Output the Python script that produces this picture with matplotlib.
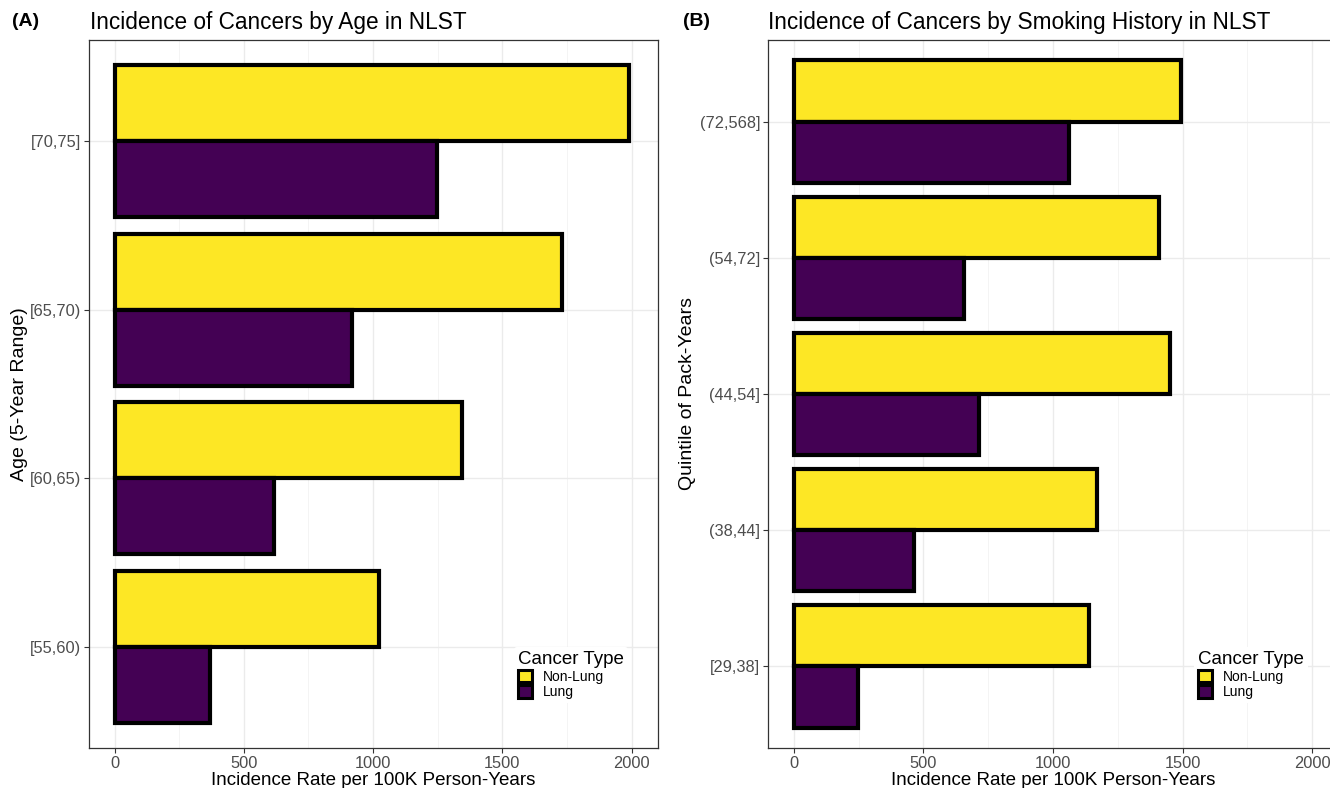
import numpy as np
import matplotlib
matplotlib.use("Agg")
import matplotlib.pyplot as plt
from matplotlib.patches import Patch

plt.rcParams['font.family'] = ['Liberation Sans', 'DejaVu Sans']

# data
age_groups = ['[55,60)', '[60,65)', '[65,70)', '[70,75]']
age_nonlung = [1024, 1343, 1729, 1990]
age_lung = [369, 615, 918, 1249]

pack_groups = ['[29,38]', '(38,44]', '(44,54]', '(54,72]', '(72,568]']
pack_nonlung = [1139, 1170, 1451, 1411, 1495]
pack_lung = [247, 465, 713, 657, 1062]

cancer_types = ['Non-Lung', 'Lung']
colors = {'Non-Lung': '#FDE725', 'Lung': '#440154'}
x_ticks = [0, 500, 1000, 1500, 2000]

W, H = 1330, 788
fig = plt.figure(figsize=(W / 100, H / 100), dpi=100)

def panel(rect, groups, nonlung, lung, title, ylab, tag, tag_x, title_x, ylab_x):
    ax = fig.add_axes(rect)
    y = np.arange(1, len(groups) + 1)
    ax.barh(y + 0.225, nonlung, height=0.45, color=colors['Non-Lung'],
            edgecolor='black', linewidth=3.0, zorder=3)
    ax.barh(y - 0.225, lung, height=0.45, color=colors['Lung'],
            edgecolor='black', linewidth=3.0, zorder=3)
    ax.set_xlim(-100, 2100)
    ax.set_ylim(0.4, len(groups) + 0.6)
    ax.set_yticks(y)
    ax.set_yticklabels(groups)
    ax.set_xticks(x_ticks)
    ax.set_xticks([250, 750, 1250, 1750], minor=True)
    ax.grid(True, which='major', color='#EBEBEB', linewidth=1.0, zorder=0)
    ax.grid(True, which='minor', axis='x', color='#F2F2F2', linewidth=0.6, zorder=0)
    ax.tick_params(axis='both', which='major', colors='#333333', labelcolor='#4D4D4D',
                   labelsize=11.8, length=3.5, width=0.8, pad=2)
    ax.tick_params(axis='x', which='minor', length=0)
    for s in ax.spines.values():
        s.set_color('#333333')
        s.set_linewidth(0.9)
    ax.set_xlabel('Incidence Rate per 100K Person-Years', fontsize=13.5, labelpad=1)
    fig.text(ylab_x / W, 1 - 394 / H, ylab, rotation=90, fontsize=14,
             ha='center', va='center')
    fig.text(title_x / W, 1 - 22 / H, title, fontsize=16.3, ha='left', va='center')
    fig.text(tag_x / W, 1 - 22 / H, tag, fontsize=14, fontweight='bold',
             ha='left', va='center')
    handles = [Patch(facecolor=colors[c], edgecolor='black', linewidth=2.2, label=c)
               for c in cancer_types]
    return ax, handles

axA, hA = panel([88.7 / W, 1 - 748 / H, (657.5 - 88.7) / W, 708 / H],
                age_groups, age_nonlung, age_lung,
                'Incidence of Cancers by Age in NLST', 'Age (5-Year Range)',
                '(A)', 12, 90, 20)
axB, hB = panel([768 / W, 1 - 748 / H, 570 / W, 708 / H],
                pack_groups, pack_nonlung, pack_lung,
                'Incidence of Cancers by Smoking History in NLST', 'Quintile of Pack-Years',
                '(B)', 683, 768, 688)

for ax, h, lx in [(axA, hA, (507 - 88.7) / 568.8), (axB, hB, (1187 - 768) / 570)]:
    leg = ax.legend(handles=h, title='Cancer Type', loc='upper left',
                    bbox_to_anchor=(lx, 0.152), fontsize=10, title_fontsize=13.5,
                    frameon=True, facecolor='white', edgecolor='none', framealpha=1,
                    handlelength=1.0, handleheight=1.0, handletextpad=0.8,
                    labelspacing=0.1, borderpad=0.3, alignment='left')
    leg.set_zorder(5)

fig.savefig('out.png', dpi=100)
